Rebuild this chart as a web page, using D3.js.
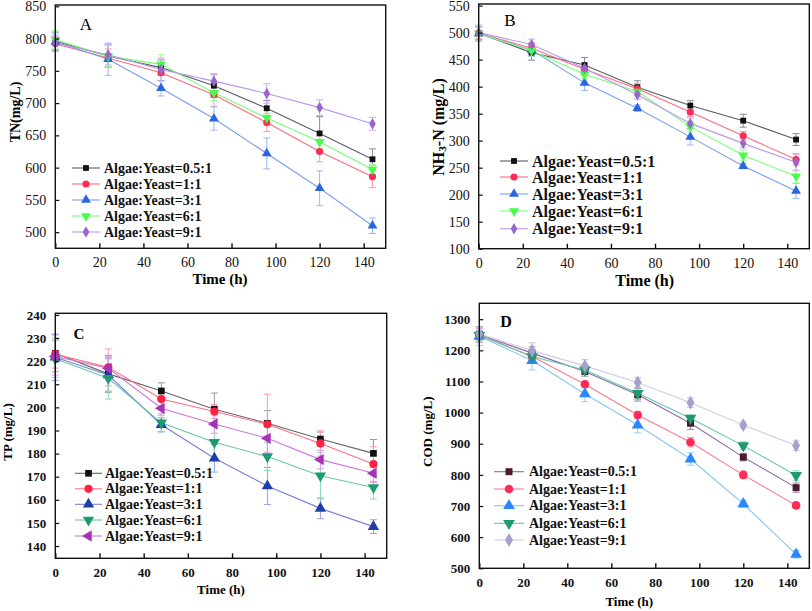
<!DOCTYPE html>
<html><head><meta charset="utf-8">
<script src="https://cdn.jsdelivr.net/npm/d3@7"></script>
<style>body{margin:0;background:#fff}svg{display:block}text{font-family:"Liberation Serif","Times New Roman",serif}</style>
</head><body><svg id="c" width="812" height="611"></svg>
<script>
const times = [0, 24, 48, 72, 96, 120, 144];
const seriesLabels = ["Algae:Yeast=0.5:1", "Algae:Yeast=1:1", "Algae:Yeast=3:1", "Algae:Yeast=6:1", "Algae:Yeast=9:1"];
const xTicks = [0, 20, 40, 60, 80, 100, 120, 140];

// Panel A: TN
const tnValues = [
  [796, 773, 755, 727, 692, 653, 613],
  [792, 770, 747, 713, 670, 625, 586],
  [795, 768, 723, 676, 622, 568, 510],
  [798, 773, 760, 716, 677, 640, 597],
  [793, 775, 752, 734, 715, 693, 668]
];
const tnErrors = [
  [14, 17, 12, 18, 12, 26, 16],
  [12, 14, 12, 18, 14, 16, 17],
  [12, 25, 12, 18, 24, 27, 12],
  [14, 16, 15, 12, 12, 10, 8],
  [10, 16, 18, 10, 15, 12, 10]
];
const tnTicks = [500, 550, 600, 650, 700, 750, 800, 850];

// Panel B: NH3-N
const nhValues = [
  [499, 463, 440, 399, 365, 337, 302],
  [499, 471, 432, 396, 353, 309, 265],
  [498, 468, 407, 360, 307, 253, 207],
  [498, 467, 423, 391, 326, 273, 234],
  [500, 478, 434, 385, 332, 295, 260]
];
const nhErrors = [
  [12, 14, 14, 12, 9, 12, 11],
  [10, 10, 10, 10, 8, 8, 10],
  [14, 12, 14, 6, 15, 5, 14],
  [12, 10, 8, 8, 10, 10, 12],
  [14, 10, 8, 8, 10, 8, 16]
];
const nhTicks = [100, 150, 200, 250, 300, 350, 400, 450, 500, 550];

// Panel C: TP
const tpValues = [
  [223.4, 214.5, 207.1, 199.2, 193.1, 186.3, 180.1],
  [223, 217.3, 203.6, 198.2, 192.7, 184.4, 175.5],
  [221.7, 214, 192.5, 178, 166, 156.3, 148.4],
  [221, 212.6, 193.3, 184.9, 178.7, 170.4, 165.3],
  [222, 216.9, 199.6, 192.8, 186.6, 177.4, 171.5]
];
const tpErrors = [
  [8, 8, 3.5, 7, 5.5, 3, 6],
  [6, 8, 3, 3, 13, 5.5, 7.5],
  [10, 7, 3, 6, 8, 4.5, 3],
  [8, 9, 4, 7, 6, 10, 5],
  [8, 5, 3, 4, 6, 4, 4]
];
const tpTicks = [140, 150, 160, 170, 180, 190, 200, 210, 220, 230, 240];

// Panel D: COD
const codValues = [
  [1251, 1191, 1132, 1057, 966, 857, 759],
  [1250, 1180, 1091, 992, 905, 800, 702],
  [1245, 1167, 1060, 960, 851, 707, 545],
  [1248, 1180, 1137, 1062, 982, 894, 798],
  [1253, 1199, 1150, 1097, 1032, 960, 894]
];
const codErrors = [
  [25, 20, 15, 20, 20, 12, 15],
  [20, 15, 10, 12, 15, 12, 10],
  [30, 30, 25, 25, 20, 12, 12],
  [15, 15, 10, 20, 10, 12, 15],
  [20, 25, 20, 15, 15, 10, 15]
];
const codTicks = [500, 600, 700, 800, 900, 1000, 1100, 1200, 1300];

const svg = d3.select("#c");

const panels = [
  {letter:"A", vals:tnValues, errs:tnErrors, yTicks:tnTicks, yDom:[475,852],
   x0:55.3, x1:385.7, y0:248.3, y1:5,
   shapes:["square","circle","triangle","down","diamond"],
   markColor:["#111111","#ff2a55","#2a66dd","#44ff44","#9966cc"],
   lineColor:["#5a5a6a","#ff6a80","#77a0ee","#77ff77","#bb99ee"],
   errColor:["#8a8a9a","#ff9aaa","#99b8f0","#99ff99","#c9aaf0"],
   tickFont:"normal", tickSize:14, letterWeight:"normal", letterSize:17, letterPos:[86,24],
   xTitle:[220,279], xTitleSize:15, yTitle:[15.5,112], yTitleSize:14, yTitleText:"TN(mg/L)",
   legend:{x0:72, x1:100, tx:104, ys:[168,184,200,216,232], size:14}, mk:1},
  {letter:"B", vals:nhValues, errs:nhErrors, yTicks:nhTicks, yDom:[100,553],
   x0:478.7, x1:809.3, y0:248.7, y1:4,
   shapes:["square","circle","triangle","down","diamond"],
   markColor:["#111111","#ff2a55","#2a66dd","#44ff44","#9966cc"],
   lineColor:["#5a5a6a","#ff6a80","#77a0ee","#77ff77","#bb99ee"],
   errColor:["#8a8a9a","#ff9aaa","#99b8f0","#99ff99","#c9aaf0"],
   tickFont:"normal", tickSize:14, letterWeight:"normal", letterSize:17, letterPos:[510,20],
   xTitle:[644.7,280], xTitleSize:16, yTitle:[438,127], yTitleSize:16, yTitleText:"NH3",
   legend:{x0:500, x1:528, tx:532, ys:[161,177,194,211,228.7], size:16}, mk:1},
  {letter:"C", vals:tpValues, errs:tpErrors, yTicks:tpTicks, yDom:[134.7,240.7],
   x0:55.3, x1:386.7, y0:558.3, y1:313.3,
   shapes:["square","circle","triangle","down","left"],
   markColor:["#111111","#ff2244","#1f3fa8","#1f9a70","#a833b8"],
   lineColor:["#666666","#ff7080","#7a80d8","#66c8a8","#cc77dd"],
   errColor:["#999999","#ff9aaa","#9aa0e0","#88d8b8","#dd99ee"],
   tickFont:"bold", tickSize:13, letterWeight:"bold", letterSize:15, letterPos:[79,334],
   xTitle:[221,589.3], xTitleSize:13, yTitle:[7,432], yTitleSize:13, yTitleText:"TP (mg/L)",
   legend:{x0:75, x1:102, tx:105, ys:[473.3,488.8,504.3,520,536], size:14}, mk:1.15},
  {letter:"D", vals:codValues, errs:codErrors, yTicks:codTicks, yDom:[500,1351],
   x0:479.3, x1:809.3, y0:568.3, y1:303.3,
   shapes:["square","circle","triangle","down","diamond"],
   markColor:["#4a1a2e","#ff2a55","#2a88ff","#1f9a70","#a8a0cc"],
   lineColor:["#8a6aaa","#ff7a90","#88c4f4","#66c8a8","#d0cce4"],
   errColor:["#9a8aaa","#ff9aaa","#99ccf4","#88d8b8","#c8c0dc"],
   tickFont:"bold", tickSize:13, letterWeight:"bold", letterSize:16, letterPos:[506,321],
   xTitle:[629.3,601.7], xTitleSize:13, yTitle:[427.7,431.7], yTitleSize:13, yTitleText:"COD (mg/L)",
   legend:{x0:494, x1:524, tx:529, ys:[471.7,489,505.7,523.3,540], size:14}, mk:1.2}
];

function symbolPath(shape, k) {
  const map = {square:[d3.symbolSquare,34], circle:[d3.symbolCircle,40], triangle:[d3.symbolTriangle,42],
               down:[d3.symbolTriangle,42], left:[d3.symbolTriangle,42], diamond:[d3.symbolDiamond,38]};
  const [t, s] = map[shape];
  return d3.symbol(t, s * k * k)();
}
function symbolRot(shape) { return shape === "down" ? 180 : shape === "left" ? -90 : 0; }

panels.forEach(p => {
  const x = d3.scaleLinear().domain([0,150]).range([p.x0, p.x1]);
  const y = d3.scaleLinear().domain(p.yDom).range([p.y0, p.y1]);
  const g = svg.append("g");

  // series: error bars, lines, markers
  p.vals.forEach((vals, si) => {
    const pts = times.map((t, i) => ({t, v: vals[i], e: p.errs[si][i]}));
    const eg = g.append("g").attr("stroke", p.errColor[si]).attr("stroke-width", 1);
    pts.forEach(d => {
      eg.append("line").attr("x1", x(d.t)).attr("x2", x(d.t)).attr("y1", y(d.v - d.e)).attr("y2", y(d.v + d.e));
      [d.v - d.e, d.v + d.e].forEach(vv => eg.append("line")
        .attr("x1", x(d.t) - 3.5).attr("x2", x(d.t) + 3.5).attr("y1", y(vv)).attr("y2", y(vv)));
    });
    g.append("path").datum(pts)
      .attr("d", d3.line().x(d => x(d.t)).y(d => y(d.v)))
      .attr("fill", "none").attr("stroke", p.lineColor[si]).attr("stroke-width", 1.1);
  });
  p.vals.forEach((vals, si) => {
    times.forEach((t, i) => {
      g.append("path").attr("d", symbolPath(p.shapes[si], p.mk))
        .attr("transform", `translate(${x(t)},${y(vals[i])}) rotate(${symbolRot(p.shapes[si])})`)
        .attr("fill", p.markColor[si]);
    });
  });

  // frame
  g.append("rect").attr("x", p.x0).attr("y", p.y1).attr("width", p.x1 - p.x0).attr("height", p.y0 - p.y1)
    .attr("fill", "none").attr("stroke", "#111").attr("stroke-width", 1.4);

  // x axis
  const xa = g.append("g").attr("transform", `translate(0,${p.y0})`)
    .call(d3.axisBottom(x).tickValues(xTicks).tickSizeInner(-5).tickSizeOuter(0).tickPadding(9));
  xa.select(".domain").remove();
  xa.selectAll("line").attr("stroke", "#111").attr("stroke-width", 1.4);
  xa.selectAll("text").attr("font-size", p.tickSize).attr("font-weight", p.tickFont)
    .attr("font-family", "Liberation Serif").attr("fill", "#111");

  // y axis
  const ya = g.append("g").attr("transform", `translate(${p.x0},0)`)
    .call(d3.axisLeft(y).tickValues(p.yTicks).tickSizeInner(-4).tickSizeOuter(0).tickPadding(9).tickFormat(d3.format("d")));
  ya.select(".domain").remove();
  ya.selectAll("line").attr("stroke", "#111").attr("stroke-width", 1.2);
  ya.selectAll("text").attr("font-size", p.tickSize).attr("font-weight", p.tickFont)
    .attr("font-family", "Liberation Serif").attr("fill", "#111");

  // titles
  g.append("text").attr("x", p.xTitle[0]).attr("y", p.xTitle[1]).attr("text-anchor", "middle")
    .attr("dominant-baseline", "central").attr("font-weight", "bold").attr("font-size", p.xTitleSize).text("Time (h)");
  const yt = g.append("text").attr("transform", `translate(${p.yTitle[0]},${p.yTitle[1]}) rotate(-90)`)
    .attr("text-anchor", "middle").attr("dominant-baseline", "central").attr("font-weight", "bold").attr("font-size", p.yTitleSize);
  if (p.yTitleText === "NH3") {
    yt.append("tspan").text("NH");
    yt.append("tspan").attr("font-size", p.yTitleSize * 0.7).attr("dy", 4).text("3");
    yt.append("tspan").attr("dy", -4).text("-N (mg/L)");
  } else {
    yt.text(p.yTitleText);
  }
  g.append("text").attr("x", p.letterPos[0]).attr("y", p.letterPos[1]).attr("text-anchor", "middle")
    .attr("dominant-baseline", "central").attr("font-weight", p.letterWeight).attr("font-size", p.letterSize).text(p.letter);

  // legend
  const L = p.legend;
  seriesLabels.forEach((lab, si) => {
    const ly = L.ys[si];
    g.append("line").attr("x1", L.x0).attr("x2", L.x1).attr("y1", ly).attr("y2", ly)
      .attr("stroke", p.lineColor[si]).attr("stroke-width", 1.1);
    g.append("path").attr("d", symbolPath(p.shapes[si], p.mk))
      .attr("transform", `translate(${(L.x0 + L.x1) / 2},${ly}) rotate(${symbolRot(p.shapes[si])})`)
      .attr("fill", p.markColor[si]);
    g.append("text").attr("x", L.tx).attr("y", ly).attr("dominant-baseline", "central")
      .attr("font-weight", "bold").attr("font-size", L.size).attr("fill", "#111").text(lab);
  });
});
</script></body></html>
